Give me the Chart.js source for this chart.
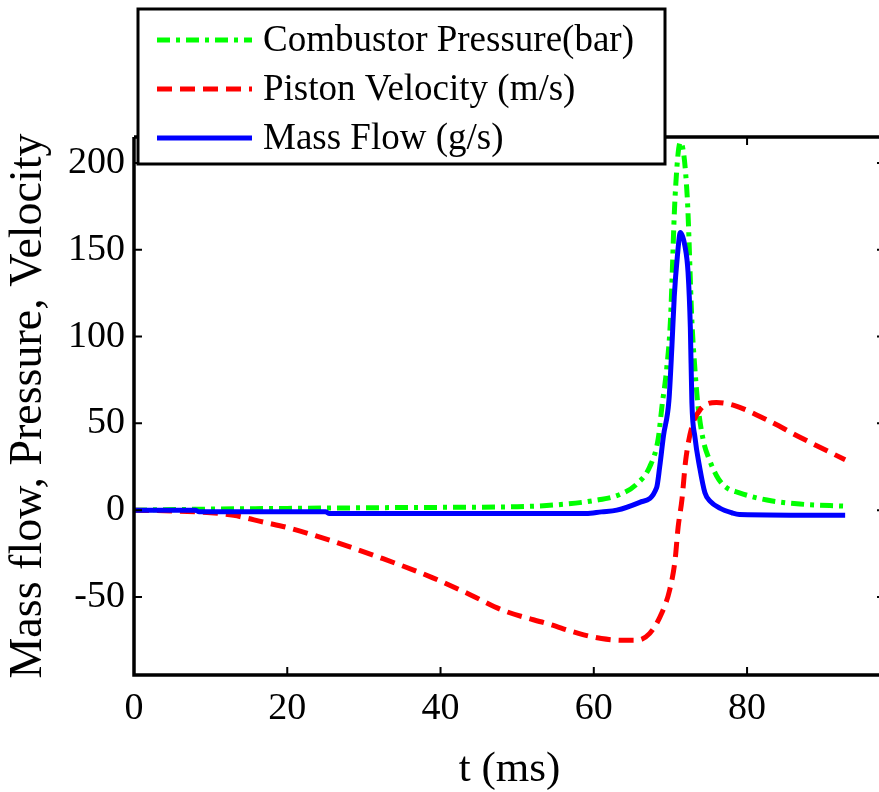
<!DOCTYPE html>
<html>
<head>
<meta charset="utf-8">
<script src="https://cdn.jsdelivr.net/npm/chart.js@4"></script>
<style>
  html, body { margin: 0; padding: 0; background: #fff; overflow: hidden; }
</style>
</head>
<body>
<canvas id="myChart" width="886" height="792"></canvas>
<script>
const xTicks = [0, 20, 40, 60, 80]
const yTicks = [-50, 0, 50, 100, 150, 200]

// combustor pressure (bar)
const pressureT = [0, 8, 20, 35, 50, 55, 60, 63.4, 65.6, 67.3, 68.4, 68.9, 69.5, 70, 70.6, 71.3, 72.2, 72.8, 73.2, 73.6, 74.3, 75, 76, 77, 79, 82.6, 86.9, 92.8]
const pressureV = [0, 0.5, 1, 1.5, 2, 3, 5.5, 9, 15, 25, 41, 60, 81, 109, 180, 212, 180, 109, 81, 60, 40, 30, 20, 14, 10, 5.8, 3.5, 2.3]

// piston velocity (m/s)
const velocityT = [0, 5, 10, 13, 17, 20, 26, 32.5, 39, 44, 48, 54.4, 58, 61, 64, 65.5, 67.3, 68.9, 69.9, 70.6, 71, 71.5, 72, 72.8, 73.9, 76, 78.2, 82.6, 86.9, 92.8]
const velocityV = [0, -0.5, -1.5, -3, -7, -10, -18, -28, -39, -49, -57.5, -66, -71, -74, -75, -75, -71, -59, -46, -29, -10, 6, 29, 48, 58, 62, 60.5, 52, 42, 29]

// mass flow (g/s)
const flowT = [0, 8, 8.5, 25, 25.5, 59, 61, 63, 66, 68.2, 68.6, 69.1, 69.8, 70.2, 70.5, 70.9, 71.3, 71.9, 72.3, 72.6, 72.8, 73.2, 73.8, 74.5, 75.2, 76.5, 78, 79, 92.8]
const flowV = [0, 0, -1, -1, -2, -2, -1, 0, 4.5, 13, 25, 43, 63, 95, 123, 146, 160, 152, 137, 105, 62, 42, 25, 10, 5, 1, -1.5, -2.5, -3]

const toPoints = (ts, vs) => ts.map((t, i) => ({x: t, y: vs[i]}))

const serif = '"Liberation Serif", "Times New Roman", serif'

// matlab style box with inward ticks
const axisBox = {
    id: 'axisBox',
    afterDatasetsDraw(chart) {
        const {ctx, chartArea: a, scales: {x, y}} = chart
        ctx.save()
        ctx.strokeStyle = '#000'
        ctx.lineWidth = 3.5
        ctx.beginPath()
        ctx.moveTo(a.left, a.top)
        ctx.lineTo(a.right, a.top)
        ctx.moveTo(a.left, a.top)
        ctx.lineTo(a.left, a.bottom)
        ctx.moveTo(a.left - 1.75, a.bottom)
        ctx.lineTo(a.right, a.bottom)
        ctx.moveTo(a.right, a.top)
        ctx.lineTo(a.right, a.bottom)
        ctx.stroke()
        ctx.lineWidth = 2
        ctx.beginPath()
        xTicks.forEach((v) => {
            const px = x.getPixelForValue(v)
            ctx.moveTo(px, a.bottom)
            ctx.lineTo(px, a.bottom - 8)
            ctx.moveTo(px, a.top)
            ctx.lineTo(px, a.top + 8)
        })
        yTicks.forEach((v) => {
            const py = y.getPixelForValue(v)
            ctx.moveTo(a.left, py)
            ctx.lineTo(a.left + 8, py)
            ctx.moveTo(a.right, py)
            ctx.lineTo(a.right - 8, py)
        })
        ctx.stroke()
        ctx.restore()
    }
}

// boxed legend sitting over the top left corner
const boxLegend = {
    id: 'boxLegend',
    afterDraw(chart) {
        const ctx = chart.ctx
        ctx.save()
        ctx.fillStyle = '#fff'
        ctx.fillRect(138, 9, 527, 155)
        ctx.strokeStyle = '#000'
        ctx.lineWidth = 3
        ctx.strokeRect(138, 9, 527, 155)
        chart.data.datasets.forEach((ds, i) => {
            const yy = 40 + i * 49
            ctx.strokeStyle = ds.borderColor
            ctx.lineWidth = ds.borderWidth
            ctx.setLineDash(ds.borderDash || [])
            ctx.beginPath()
            ctx.moveTo(157, yy)
            ctx.lineTo(252, yy)
            ctx.stroke()
            ctx.setLineDash([])
            ctx.fillStyle = '#000'
            ctx.font = '37px ' + serif
            ctx.textBaseline = 'middle'
            ctx.fillText(ds.label, 263, yy + 1)
        })
        ctx.restore()
    }
}

const data = {
    datasets: [{
        label: 'Combustor Pressure(bar)',
        data: toPoints(pressureT, pressureV),
        borderColor: '#00ff00',
        borderWidth: 5,
        borderDash: [13, 6, 4, 6],
        order: 3
    }, {
        label: 'Piston Velocity (m/s)',
        data: toPoints(velocityT, velocityV),
        borderColor: '#ff0000',
        borderWidth: 5,
        borderDash: [15, 8],
        order: 2
    }, {
        label: 'Mass Flow (g/s)',
        data: toPoints(flowT, flowV),
        borderColor: '#0000ff',
        borderWidth: 5,
        order: 1
    }]
}

const config = {
    type: 'line',
    data: data,
    options: {
        responsive: false,
        animation: false,
        layout: { padding: { top: 137, right: 1, left: 0, bottom: 0 } },
        elements: {
            point: { radius: 0 },
            line: { cubicInterpolationMode: 'monotone', borderCapStyle: 'butt' }
        },
        plugins: {
            legend: { display: false },
            tooltip: { enabled: false }
        },
        scales: {
            x: {
                type: 'linear',
                min: 0,
                max: 98,
                grid: { display: false, drawTicks: false },
                border: { display: false },
                afterBuildTicks: (scale) => { scale.ticks = xTicks.map(v => ({value: v})) },
                afterFit: (scale) => { scale.height = 117 },
                ticks: {
                    color: '#000',
                    padding: 11,
                    maxRotation: 0,
                    font: { family: serif, size: 38 }
                },
                title: {
                    display: true,
                    text: 't (ms)',
                    color: '#000',
                    padding: { top: 0, bottom: 1 },
                    font: { family: serif, size: 43, lineHeight: 1 }
                }
            },
            y: {
                min: -95,
                max: 215,
                grid: { display: false, drawTicks: false },
                border: { display: false },
                afterBuildTicks: (scale) => { scale.ticks = yTicks.map(v => ({value: v})) },
                afterFit: (scale) => { scale.width = 134 },
                ticks: {
                    color: '#000',
                    padding: 9,
                    font: { family: serif, size: 38 }
                },
                title: {
                    display: true,
                    text: 'Mass flow, Pressure, Velocity',
                    color: '#000',
                    padding: { top: 6, bottom: 0 },
                    font: { family: serif, size: 46, lineHeight: 1 }
                }
            }
        }
    },
    plugins: [axisBox, boxLegend]
}

const myChart = new Chart(document.getElementById('myChart'), config)
</script>
</body>
</html>
